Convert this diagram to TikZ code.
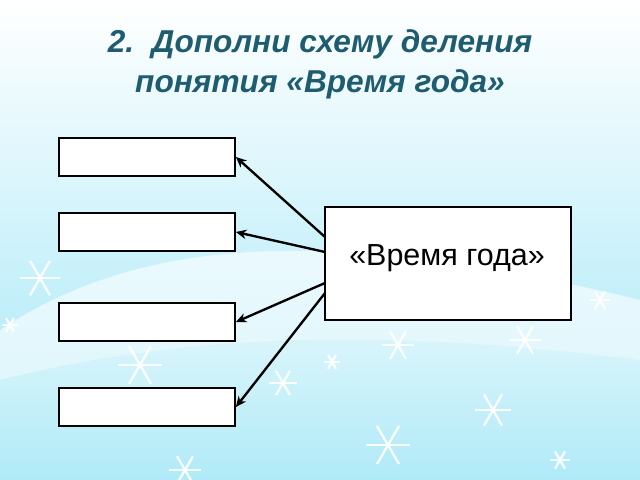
\documentclass[tikz,border=0pt]{standalone}
\usepackage{fontspec}
\setmainfont{Liberation Sans}
\definecolor{titlec}{HTML}{1F5C70}
\definecolor{skyb}{HTML}{9FE6F7}
\tikzset{
  emptybox/.style={draw=black, line width=1.5pt, fill=white, minimum width=176*0.03cm, minimum height=38*0.03cm, inner sep=0},
  mainbox/.style={draw=black, line width=1.5pt, fill=white, minimum width=246*0.03cm, minimum height=113*0.03cm, inner sep=0},
  conn/.style={-{Stealth[length=9pt,width=8pt]}, line width=2pt},
  flake/.style={white, line width=2pt, opacity=0.9}
}
\usetikzlibrary{arrows.meta}
\newcommand{\snowf}[3]{%
  \foreach \a in {0,60,120} {\draw[flake] (#1,#2) ++(\a:#3) -- ++(\a+180:2*#3);}}
\begin{document}
\begin{tikzpicture}[x=0.03cm,y=-0.03cm]
\useasboundingbox (0,0) rectangle (640,480);
\shade[top color=white, bottom color=skyb] (0,0) rectangle (640,480);
\fill[white, opacity=0.6] (0,480) -- (0,330) .. controls (150,230) and (350,230) .. (640,300) -- (640,480) -- cycle;
\shade[top color=white!60!skyb, bottom color=skyb, opacity=0.7] (0,480) -- (0,380) .. controls (200,330) and (400,330) .. (640,360) -- (640,480) -- cycle;
\snowf{40}{278}{20}
\snowf{140}{365}{22}
\snowf{283}{383}{14}
\snowf{398}{345}{16}
\snowf{493}{410}{18}
\snowf{388}{445}{22}
\snowf{525}{340}{16}
\snowf{185}{470}{16}
\snowf{560}{460}{10}
\snowf{10}{325}{8}
\snowf{332}{362}{8}
\snowf{600}{300}{10}
\node[text=titlec, font=\bfseries\itshape\fontsize{27}{34}\selectfont, align=center] (title) at (320,64) {2.\ \ Дополни схему деления\\понятия «Время года»};
\node[emptybox] (b1) at (147,157) {};
\node[emptybox] (b2) at (147,232) {};
\node[emptybox] (b3) at (147,322) {};
\node[emptybox] (b4) at (147,407) {};
\node[mainbox] (m) at (448,263.5) {};
\node[font=\fontsize{26}{30}\selectfont] (mt) at (447,258) {«Время года»};
\coordinate (s1) at (325,237);
\coordinate (s2) at (325,252);
\coordinate (s3) at (325,283);
\coordinate (s4) at (325,293);
\draw[conn] (s1) -- (b1.east);
\draw[conn] (s2) -- (b2.east);
\draw[conn] (s3) -- (b3.east);
\draw[conn] (s4) -- (b4.east);
\end{tikzpicture}
\end{document}
